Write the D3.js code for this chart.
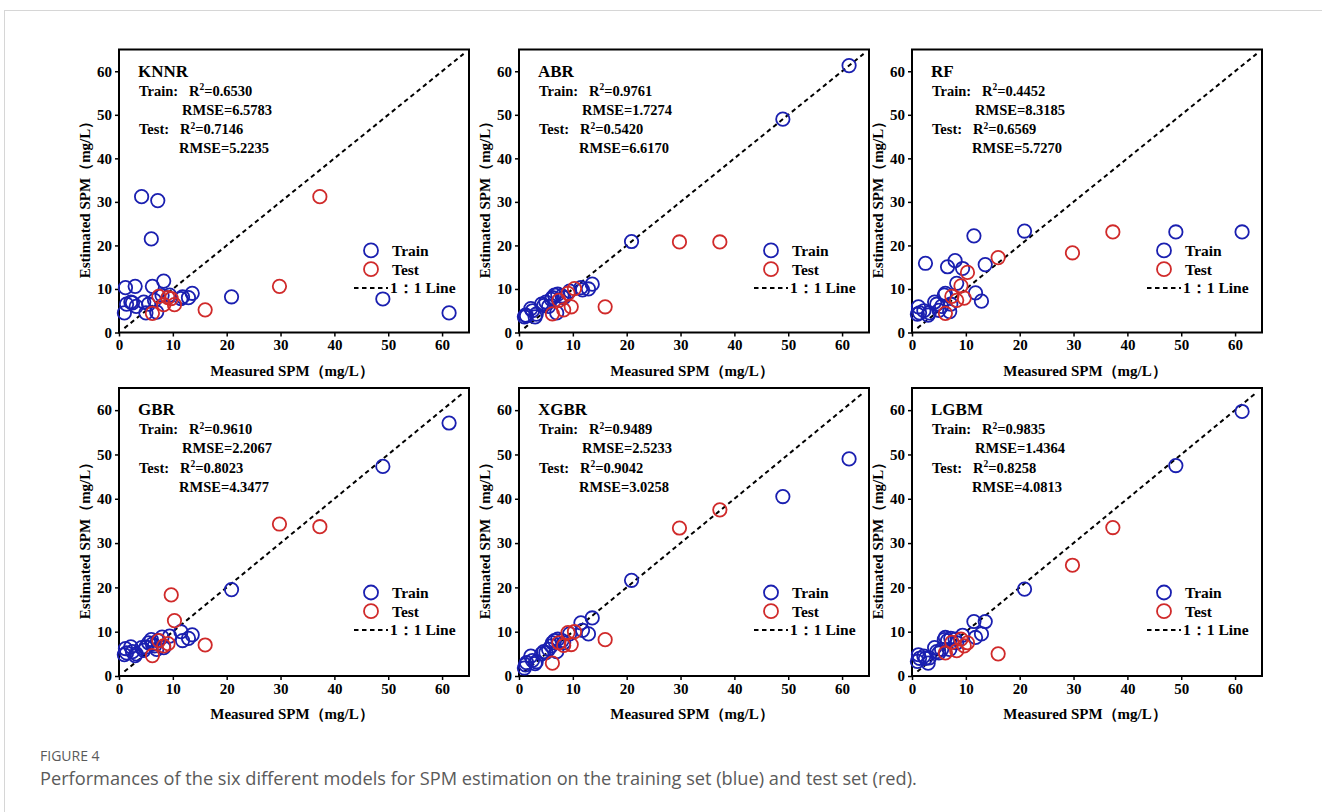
<!DOCTYPE html>
<html>
<head>
<meta charset="utf-8">
<script src="https://cdn.jsdelivr.net/npm/d3@7/dist/d3.min.js"></script>
<style>
  body { margin: 0; background: #fff; }
  svg { display: block; }
</style>
</head>
<body>
<svg width="1322" height="812"></svg>
<script>
// Measured SPM (mg/L) - same samples for every model
const trainMeasured = [1.0, 1.2, 1.4, 2.2, 2.5, 3.0, 3.2, 4.2, 4.6, 5.0, 5.5, 6.0, 6.2, 6.6, 7.0, 7.2, 8.0, 8.3, 9.4, 11.5, 11.8, 12.9, 13.6, 20.9, 49.0, 61.3];
const testMeasured = [6.2, 7.4, 8.3, 9.1, 9.7, 10.3, 16.0, 29.8, 37.3];

const modelNames = ['KNNR', 'ABR', 'RF', 'GBR', 'XGBR', 'LGBM'];

// Estimated SPM, training set (one entry per trainMeasured value)
const knnrTrain = [4.5, 10.3, 6.5, 7.0, 6.8, 10.6, 6.0, 31.2, 7.0, 4.5, 6.5, 21.5, 10.6, 7.4, 4.7, 30.3, 8.5, 11.8, 8.6, 7.8, 8.2, 8.0, 9.0, 8.2, 7.7, 4.5];
const abrTrain = [3.6, 4.0, 3.8, 5.5, 5.0, 3.6, 4.2, 6.5, 6.2, 7.0, 6.0, 7.6, 8.0, 8.6, 4.5, 8.8, 8.4, 8.0, 9.5, 10.3, 9.8, 10.0, 11.1, 20.9, 49.0, 61.3];
const rfTrain = [4.2, 5.9, 4.5, 5.0, 15.9, 4.0, 4.5, 7.0, 6.5, 5.1, 6.0, 8.6, 9.0, 15.1, 4.8, 6.5, 16.5, 11.3, 14.7, 22.2, 9.1, 7.2, 15.6, 23.3, 23.1, 23.1];
const gbrTrain = [4.8, 6.2, 5.2, 6.6, 5.5, 4.6, 5.0, 6.4, 5.8, 6.5, 7.5, 8.2, 7.2, 6.8, 6.0, 8.0, 8.8, 6.4, 9.0, 10.0, 8.0, 8.5, 9.3, 19.5, 47.3, 57.1];
const xgbrTrain = [1.8, 2.5, 3.0, 4.5, 3.5, 2.8, 3.2, 5.0, 5.5, 5.3, 6.0, 6.8, 7.5, 8.0, 5.5, 8.3, 8.0, 7.5, 9.5, 12.0, 10.3, 9.5, 13.1, 21.6, 40.5, 49.0];
const lgbmTrain = [3.3, 4.8, 4.0, 4.5, 4.0, 2.9, 4.1, 6.4, 5.5, 5.2, 6.0, 8.2, 8.7, 8.0, 6.0, 8.5, 8.3, 7.5, 9.2, 12.3, 8.7, 9.5, 12.3, 19.6, 47.5, 59.7];

// Estimated SPM, test set (one entry per testMeasured value)
const knnrTest = [4.4, 8.3, 6.4, 8.0, 7.8, 6.4, 5.2, 10.6, 31.2];
const abrTest = [4.3, 7.4, 5.2, 9.0, 5.9, 10.1, 5.9, 20.8, 20.8];
const rfTest = [4.4, 8.3, 7.4, 10.7, 7.9, 13.8, 17.2, 18.3, 23.1];
const gbrTest = [4.6, 8.0, 6.8, 7.3, 18.3, 12.5, 7.0, 34.3, 33.7];
const xgbrTest = [2.9, 7.5, 6.9, 9.8, 7.1, 10.0, 8.2, 33.4, 37.5];
const lgbmTest = [5.2, 7.6, 5.7, 8.3, 6.8, 7.5, 5.0, 25.0, 33.5];

// Metrics printed in each panel
const trainR2 = ['0.6530', '0.9761', '0.4452', '0.9610', '0.9489', '0.9835'];
const trainRMSE = ['6.5783', '1.7274', '8.3185', '2.2067', '2.5233', '1.4364'];
const testR2 = ['0.7146', '0.5420', '0.6569', '0.8023', '0.9042', '0.8258'];
const testRMSE = ['5.2235', '6.6170', '5.7270', '4.3477', '3.0258', '4.0813'];

const axisTicks = [0, 10, 20, 30, 40, 50, 60];

const trainSets = [knnrTrain, abrTrain, rfTrain, gbrTrain, xgbrTrain, lgbmTrain];
const testSets = [knnrTest, abrTest, rfTest, gbrTest, xgbrTest, lgbmTest];

const svg = d3.select('svg');
const serif = '"Liberation Serif", "Times New Roman", serif';
const blue = '#1a1fb0';
const red = '#d02a2a';

// page frame (card border)
svg.append('line').attr('x1', 4).attr('y1', 10.5).attr('x2', 1322).attr('y2', 10.5)
  .attr('stroke', '#d6d6d6').attr('stroke-width', 1);
svg.append('line').attr('x1', 4.5).attr('y1', 10).attr('x2', 4.5).attr('y2', 812)
  .attr('stroke', '#d6d6d6').attr('stroke-width', 1);

// panel positions
const colLeft = [119, 519, 912];
const rowTop = [49.5, 388];
const rowHeight = [283, 288];
const plotW = 350;

modelNames.forEach((name, i) => {
  const col = i % 3, row = Math.floor(i / 3);
  const w = plotW, h = rowHeight[row];
  const g = svg.append('g').attr('transform', `translate(${colLeft[col]},${rowTop[row]})`);

  const x = d3.scaleLinear().domain([0, 65]).range([0, w]);
  const y = d3.scaleLinear().domain([0, 65]).range([h, 0]);

  // axes
  const xAxis = g.append('g').attr('transform', `translate(0,${h})`)
    .call(d3.axisBottom(x).tickValues(axisTicks).tickSize(4).tickSizeOuter(0).tickPadding(3));
  const yAxis = g.append('g')
    .call(d3.axisLeft(y).tickValues(axisTicks).tickSize(4).tickSizeOuter(0).tickPadding(3));
  [xAxis, yAxis].forEach(a => {
    a.select('.domain').remove();
    a.selectAll('line').attr('stroke', '#000').attr('stroke-width', 1.5);
    a.selectAll('text').attr('fill', '#000').style('font-family', serif)
      .style('font-weight', 'bold').style('font-size', '15px');
  });

  // frame
  g.append('rect').attr('x', 0).attr('y', 0).attr('width', w).attr('height', h)
    .attr('fill', 'none').attr('stroke', '#000').attr('stroke-width', 2);

  // axis titles
  g.append('text').attr('x', w / 2 - 2).attr('y', h + 43)
    .attr('text-anchor', 'middle').style('font-family', serif).style('font-weight', 'bold')
    .style('font-size', '15px').text('Measured SPM（mg/L）');
  g.append('text').attr('transform', `translate(-29,${h / 2 + 5}) rotate(-90)`)
    .attr('text-anchor', 'middle').style('font-family', serif).style('font-weight', 'bold')
    .style('font-size', '15px').text('Estimated SPM（mg/L）');

  // 1:1 line
  g.append('line')
    .attr('x1', x(1)).attr('y1', y(1)).attr('x2', x(64)).attr('y2', y(64))
    .attr('stroke', '#000').attr('stroke-width', 2).attr('stroke-dasharray', '4.5,3.5');

  // points: train first, test on top
  const trainData = trainMeasured.map((m, k) => [m, trainSets[i][k]]);
  const testData = testMeasured.map((m, k) => [m, testSets[i][k]]);
  g.selectAll('circle.train').data(trainData).enter().append('circle')
    .attr('class', 'train')
    .attr('cx', d => x(d[0])).attr('cy', d => y(d[1])).attr('r', 6.7)
    .attr('fill', 'none').attr('stroke', blue).attr('stroke-width', 1.8);
  g.selectAll('circle.test').data(testData).enter().append('circle')
    .attr('class', 'test')
    .attr('cx', d => x(d[0])).attr('cy', d => y(d[1])).attr('r', 6.7)
    .attr('fill', 'none').attr('stroke', red).attr('stroke-width', 1.8);

  // model name and metrics
  const txt = (tx, ty, size) => g.append('text').attr('x', tx).attr('y', ty)
    .style('font-family', serif).style('font-weight', 'bold').style('font-size', size);
  txt(19, 27, '17px').text(name);
  txt(20, 46, '14.5px').text('Train:');
  const r2a = txt(70, 46, '14.5px');
  r2a.append('tspan').text('R');
  r2a.append('tspan').attr('dy', -5.5).style('font-size', '9.5px').text('2');
  r2a.append('tspan').attr('dy', 5.5).text('=' + trainR2[i]);
  txt(63, 65, '14.5px').text('RMSE=' + trainRMSE[i]);
  txt(20, 84.5, '14.5px').text('Test:');
  const r2b = txt(61, 84.5, '14.5px');
  r2b.append('tspan').text('R');
  r2b.append('tspan').attr('dy', -5.5).style('font-size', '9.5px').text('2');
  r2b.append('tspan').attr('dy', 5.5).text('=' + testR2[i]);
  txt(60, 103.5, '14.5px').text('RMSE=' + testRMSE[i]);

  // legend
  const lx = 252, ly = h * 0.71;
  g.append('circle').attr('cx', lx).attr('cy', ly).attr('r', 7)
    .attr('fill', 'none').attr('stroke', blue).attr('stroke-width', 1.8);
  g.append('circle').attr('cx', lx).attr('cy', ly + 18.7).attr('r', 7)
    .attr('fill', 'none').attr('stroke', red).attr('stroke-width', 1.8);
  g.append('line').attr('x1', lx - 17).attr('x2', lx + 17).attr('y1', ly + 37.5).attr('y2', ly + 37.5)
    .attr('stroke', '#000').attr('stroke-width', 2).attr('stroke-dasharray', '4.5,3.5');
  txt(lx + 21, ly + 5.5, '15.5px').text('Train');
  txt(lx + 21, ly + 24.2, '15.5px').text('Test');
  txt(lx + 19, ly + 43, '15.5px').text('1：1 Line');
});

// caption
svg.append('text').attr('x', 40).attr('y', 761)
  .style('font-family', '"Open Sans", sans-serif').style('font-size', '14px')
  .attr('fill', '#5a5a5a').text('FIGURE 4');
svg.append('text').attr('x', 40).attr('y', 785)
  .style('font-family', '"Open Sans", sans-serif').style('font-size', '18.2px')
  .attr('fill', '#5a5a5a')
  .text('Performances of the six different models for SPM estimation on the training set (blue) and test set (red).');
</script>
</body>
</html>
